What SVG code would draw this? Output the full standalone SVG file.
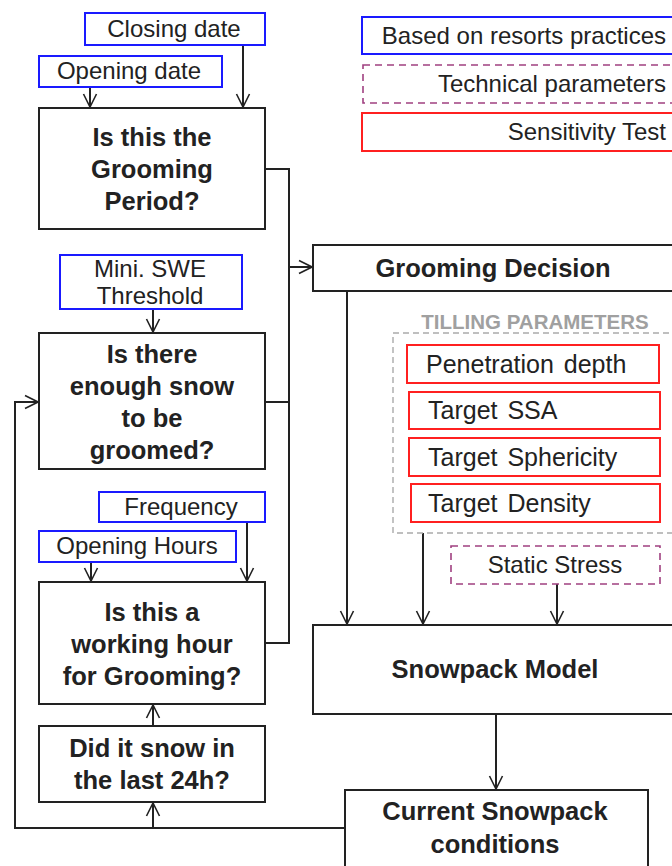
<svg xmlns="http://www.w3.org/2000/svg" width="672" height="866" viewBox="0 0 672 866">
<defs>
<marker id="v" viewBox="0 0 16 16" refX="15" refY="8" markerWidth="16" markerHeight="16" markerUnits="userSpaceOnUse" orient="auto">
<path d="M2,1.5 L15,8 L2,14.5" fill="none" stroke="#222" stroke-width="1.6"/>
</marker>
</defs>
<style>
.box{fill:#fff;stroke:#222;stroke-width:2}
.blue{fill:#fff;stroke:#1a1aff;stroke-width:2}
.red{fill:#fff;stroke:#ff2020;stroke-width:2}
.tech{fill:#fff;stroke:#a04080;stroke-width:1.6;stroke-dasharray:7,5}
.grp{fill:none;stroke:#aaa;stroke-width:1.4;stroke-dasharray:6,4}
.t{font-family:"Liberation Sans",Arial,sans-serif;font-size:24px;fill:#222}
.tp{font-family:"Liberation Sans",Arial,sans-serif;font-size:25px;word-spacing:3px;fill:#222}
.b{font-family:"Liberation Sans",Arial,sans-serif;font-size:25.5px;font-weight:bold;fill:#222}
.g{font-family:"Liberation Sans",Arial,sans-serif;font-size:20.5px;font-weight:bold;fill:#a0a0a0}
.ln{fill:none;stroke:#222;stroke-width:2}
</style>
<rect width="672" height="866" fill="#fff"/>

<g id="connectors">
<path class="ln" d="M243,45 V107" marker-end="url(#v)"/>
<path class="ln" d="M90,87 V107" marker-end="url(#v)"/>
<path class="ln" d="M265,169 H289 V643 H265"/>
<path class="ln" d="M265,402 H289"/>
<path class="ln" d="M289,267 H312" marker-end="url(#v)"/>
<path class="ln" d="M153,309 V332" marker-end="url(#v)"/>
<path class="ln" d="M247,522 V581" marker-end="url(#v)"/>
<path class="ln" d="M91,562 V581" marker-end="url(#v)"/>
<path class="ln" d="M153,726 V705" marker-end="url(#v)"/>
<path class="ln" d="M345,828 H15 V402 H38" marker-end="url(#v)"/>
<path class="ln" d="M153,828 V803" marker-end="url(#v)"/>
<path class="ln" d="M347,291 V624" marker-end="url(#v)"/>
<path class="ln" d="M423,533 V624" marker-end="url(#v)"/>
<path class="ln" d="M557,584 V624" marker-end="url(#v)"/>
<path class="ln" d="M496,714 V789" marker-end="url(#v)"/>
</g>

<g id="legend-practices"><rect class="blue" x="362" y="17" width="318" height="37"/><text class="t" x="666" y="44" text-anchor="end">Based on resorts practices</text></g>
<g id="legend-technical"><rect class="tech" x="363" y="65" width="318" height="38"/><text class="t" x="666" y="92" text-anchor="end">Technical parameters</text></g>
<g id="legend-sensitivity"><rect class="red" x="362" y="113" width="318" height="38"/><text class="t" x="666" y="140" text-anchor="end">Sensitivity Test</text></g>

<g id="closing-date"><rect class="blue" x="85" y="13" width="180" height="32"/><text class="t" x="174" y="37" text-anchor="middle">Closing date</text></g>
<g id="opening-date"><rect class="blue" x="39" y="56" width="183" height="31"/><text class="t" x="129" y="79" text-anchor="middle">Opening date</text></g>
<g id="grooming-period"><rect class="box" x="39" y="108" width="226" height="121"/>
<text class="b" text-anchor="middle" x="152"><tspan x="152" y="146">Is this the</tspan><tspan x="152" y="178">Grooming</tspan><tspan x="152" y="210">Period?</tspan></text></g>

<g id="swe-threshold"><rect class="blue" x="60" y="255" width="182" height="54"/>
<text class="t" text-anchor="middle"><tspan x="150" y="277">Mini. SWE</tspan><tspan x="150" y="304">Threshold</tspan></text></g>
<g id="enough-snow"><rect class="box" x="39" y="333" width="226" height="136"/>
<text class="b" text-anchor="middle"><tspan x="152" y="363">Is there</tspan><tspan x="152" y="395">enough snow</tspan><tspan x="152" y="427">to be</tspan><tspan x="152" y="459">groomed?</tspan></text></g>

<g id="frequency"><rect class="blue" x="99" y="492" width="166" height="30"/><text class="t" x="181" y="515" text-anchor="middle">Frequency</text></g>
<g id="opening-hours"><rect class="blue" x="39" y="531" width="197" height="31"/><text class="t" x="137" y="554" text-anchor="middle">Opening Hours</text></g>
<g id="working-hour"><rect class="box" x="39" y="582" width="226" height="122"/>
<text class="b" text-anchor="middle"><tspan x="152" y="621">Is this a</tspan><tspan x="152" y="653">working hour</tspan><tspan x="152" y="685">for Grooming?</tspan></text></g>

<g id="snow-24h"><rect class="box" x="39" y="726" width="226" height="76"/>
<text class="b" text-anchor="middle"><tspan x="152" y="757">Did it snow in</tspan><tspan x="152" y="789">the last 24h?</tspan></text></g>

<g id="grooming-decision"><rect class="box" x="313" y="245" width="370" height="46"/><text class="b" x="493" y="277" text-anchor="middle">Grooming Decision</text></g>

<g id="tilling-parameters">
<text class="g" x="535" y="329" text-anchor="middle">TILLING PARAMETERS</text>
<rect class="grp" x="393" y="333" width="290" height="200"/>
</g>
<g id="penetration-depth"><rect class="red" x="407" y="345" width="252" height="38"/><text class="tp" x="426" y="373">Penetration depth</text></g>
<g id="target-ssa"><rect class="red" x="409" y="392" width="251" height="37"/><text class="tp" x="428" y="419">Target SSA</text></g>
<g id="target-sphericity"><rect class="red" x="409" y="438" width="251" height="38"/><text class="tp" x="428" y="466">Target Sphericity</text></g>
<g id="target-density"><rect class="red" x="411" y="484" width="249" height="38"/><text class="tp" x="428" y="512">Target Density</text></g>

<g id="static-stress"><rect class="tech" x="451" y="546" width="209" height="38"/><text class="t" x="555" y="573" text-anchor="middle">Static Stress</text></g>

<g id="snowpack-model"><rect class="box" x="313" y="625" width="370" height="89"/><text class="b" x="495" y="678" text-anchor="middle">Snowpack Model</text></g>

<g id="current-snowpack"><rect class="box" x="345" y="790" width="303" height="86"/>
<text class="b" text-anchor="middle"><tspan x="495" y="820">Current  Snowpack</tspan><tspan x="495" y="853">conditions</tspan></text></g>
</svg>
